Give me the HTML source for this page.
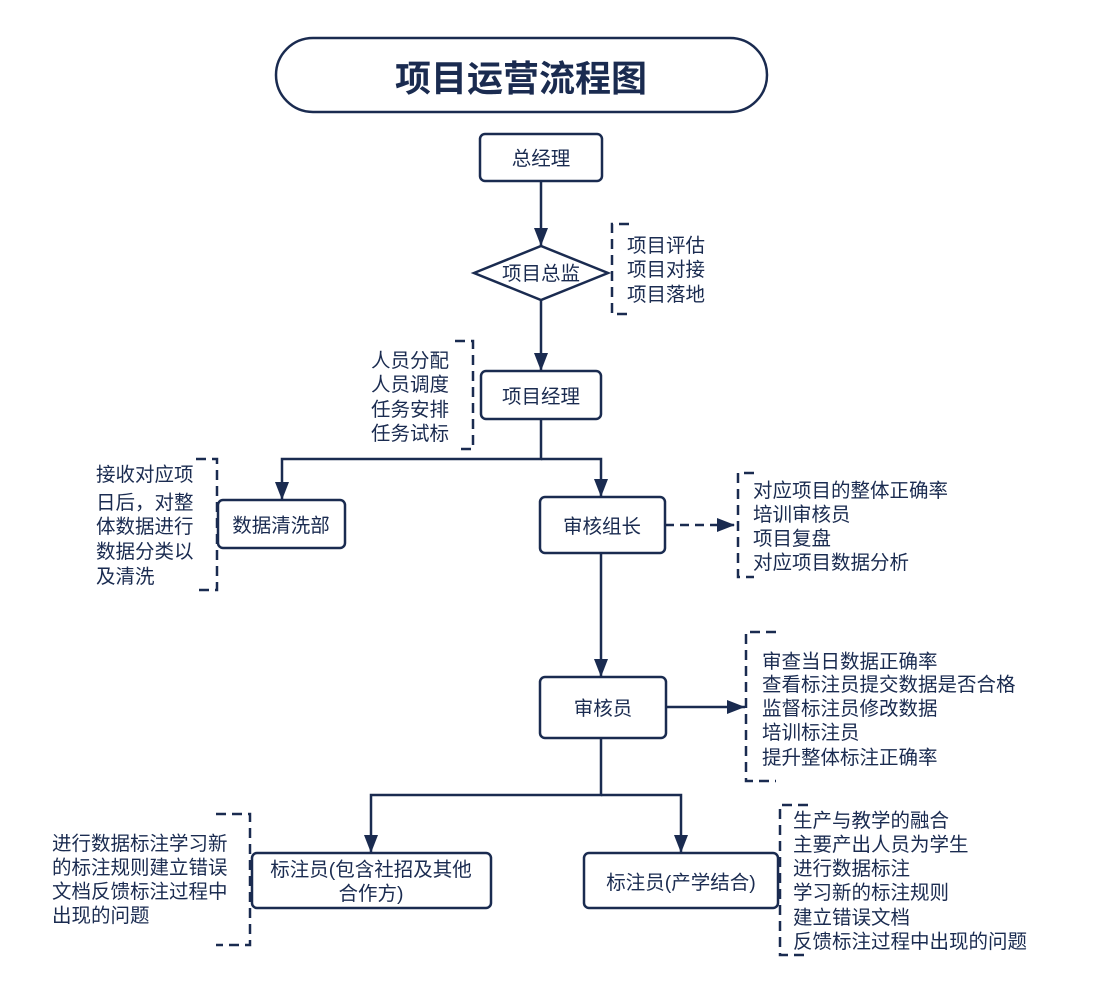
<!DOCTYPE html>
<html><head><meta charset="utf-8"><style>
html,body{margin:0;padding:0;background:#fff;}
svg{display:block;}
text{font-family:"Liberation Sans","Noto Sans CJK SC",sans-serif;fill:#1a2b50;font-size:19.5px;}
</style></head><body>
<svg width="1117" height="993" viewBox="0 0 1117 993" xmlns="http://www.w3.org/2000/svg">
<defs>
<marker id="b" markerWidth="20" markerHeight="20" refX="18" refY="7" orient="auto" markerUnits="userSpaceOnUse"><path d="M0,0 L18,7 L0,14 Z" fill="#1a2b50"/></marker>
</defs>
<g fill="none" stroke="#1a2b50" stroke-width="2.5">
<rect x="276" y="38" width="491" height="74" rx="37" stroke-width="2.5"/>
<rect x="480" y="134" width="122" height="47" rx="5"/>
<path d="M474,273 L541,246 L608,273 L541,300 Z"/>
<rect x="481" y="371" width="120" height="48" rx="5"/>
<rect x="218" y="500" width="127" height="48" rx="5"/>
<rect x="540" y="497" width="125" height="56" rx="5"/>
<rect x="540" y="677" width="126" height="61" rx="5"/>
<rect x="252" y="853" width="239" height="55" rx="5"/>
<rect x="584" y="853" width="194" height="55" rx="5"/>
<path d="M541,181 V246" marker-end="url(#b)"/>
<path d="M541,300 V371" marker-end="url(#b)"/>
<path d="M541,419 V459 H282 V500" marker-end="url(#b)"/>
<path d="M541,459 H601 V497" marker-end="url(#b)"/>
<path d="M601,553 V677" marker-end="url(#b)"/>
<path d="M666,707 H745" marker-end="url(#b)"/>
<path d="M601,738 V795 H371 V853" marker-end="url(#b)"/>
<path d="M601,795 H681 V853" marker-end="url(#b)"/>
<path d="M665,525 H735" stroke-dasharray="9,6" marker-end="url(#b)"/>
<g stroke-dasharray="10,6">
<path d="M629,224 H612 V314 H629"/>
<path d="M455,341 H473 V449 H455"/>
<path d="M196,459 H217 V590 H196"/>
<path d="M754,473 H738 V577 H754"/>
<path d="M776,632 H746 V781 H776"/>
<path d="M216,814 H250 V945 H216"/>
<path d="M808,805 H780 V955 H808"/>
</g>
</g>
<text x="521" y="91" text-anchor="middle" style="font-size:36px;font-weight:bold">项目运营流程图</text>
<text x="541" y="165" text-anchor="middle">总经理</text>
<text x="541" y="280" text-anchor="middle">项目总监</text>
<text x="541" y="403" text-anchor="middle">项目经理</text>
<text x="281" y="532" text-anchor="middle">数据清洗部</text>
<text x="602" y="533" text-anchor="middle">审核组长</text>
<text x="603" y="715" text-anchor="middle">审核员</text>
<text x="371" y="876" text-anchor="middle">标注员(包含社招及其他</text>
<text x="371" y="900" text-anchor="middle">合作方)</text>
<text x="681" y="889" text-anchor="middle">标注员(产学结合)</text>
<g>
<text x="627" y="252">项目评估</text>
<text x="627" y="276">项目对接</text>
<text x="627" y="301">项目落地</text>
</g>
<g text-anchor="end">
<text x="449" y="367">人员分配</text>
<text x="449" y="391">人员调度</text>
<text x="449" y="416">任务安排</text>
<text x="449" y="440">任务试标</text>
</g>
<g>
<text x="96" y="481">接收对应项</text>
<text x="96" y="509">日后，对整</text>
<text x="96" y="533">体数据进行</text>
<text x="96" y="558">数据分类以</text>
<text x="96" y="583">及清洗</text>
</g>
<g>
<text x="753" y="497">对应项目的整体正确率</text>
<text x="753" y="521">培训审核员</text>
<text x="753" y="545">项目复盘</text>
<text x="753" y="569">对应项目数据分析</text>
</g>
<g>
<text x="762" y="668">审查当日数据正确率</text>
<text x="762" y="691">查看标注员提交数据是否合格</text>
<text x="762" y="715">监督标注员修改数据</text>
<text x="762" y="739">培训标注员</text>
<text x="762" y="764">提升整体标注正确率</text>
</g>
<g>
<text x="52" y="850">进行数据标注学习新</text>
<text x="52" y="874">的标注规则建立错误</text>
<text x="52" y="898">文档反馈标注过程中</text>
<text x="52" y="922">出现的问题</text>
</g>
<g>
<text x="793" y="827">生产与教学的融合</text>
<text x="793" y="851">主要产出人员为学生</text>
<text x="793" y="875">进行数据标注</text>
<text x="793" y="899">学习新的标注规则</text>
<text x="793" y="924">建立错误文档</text>
<text x="793" y="948">反馈标注过程中出现的问题</text>
</g>
</svg>
</body></html>
